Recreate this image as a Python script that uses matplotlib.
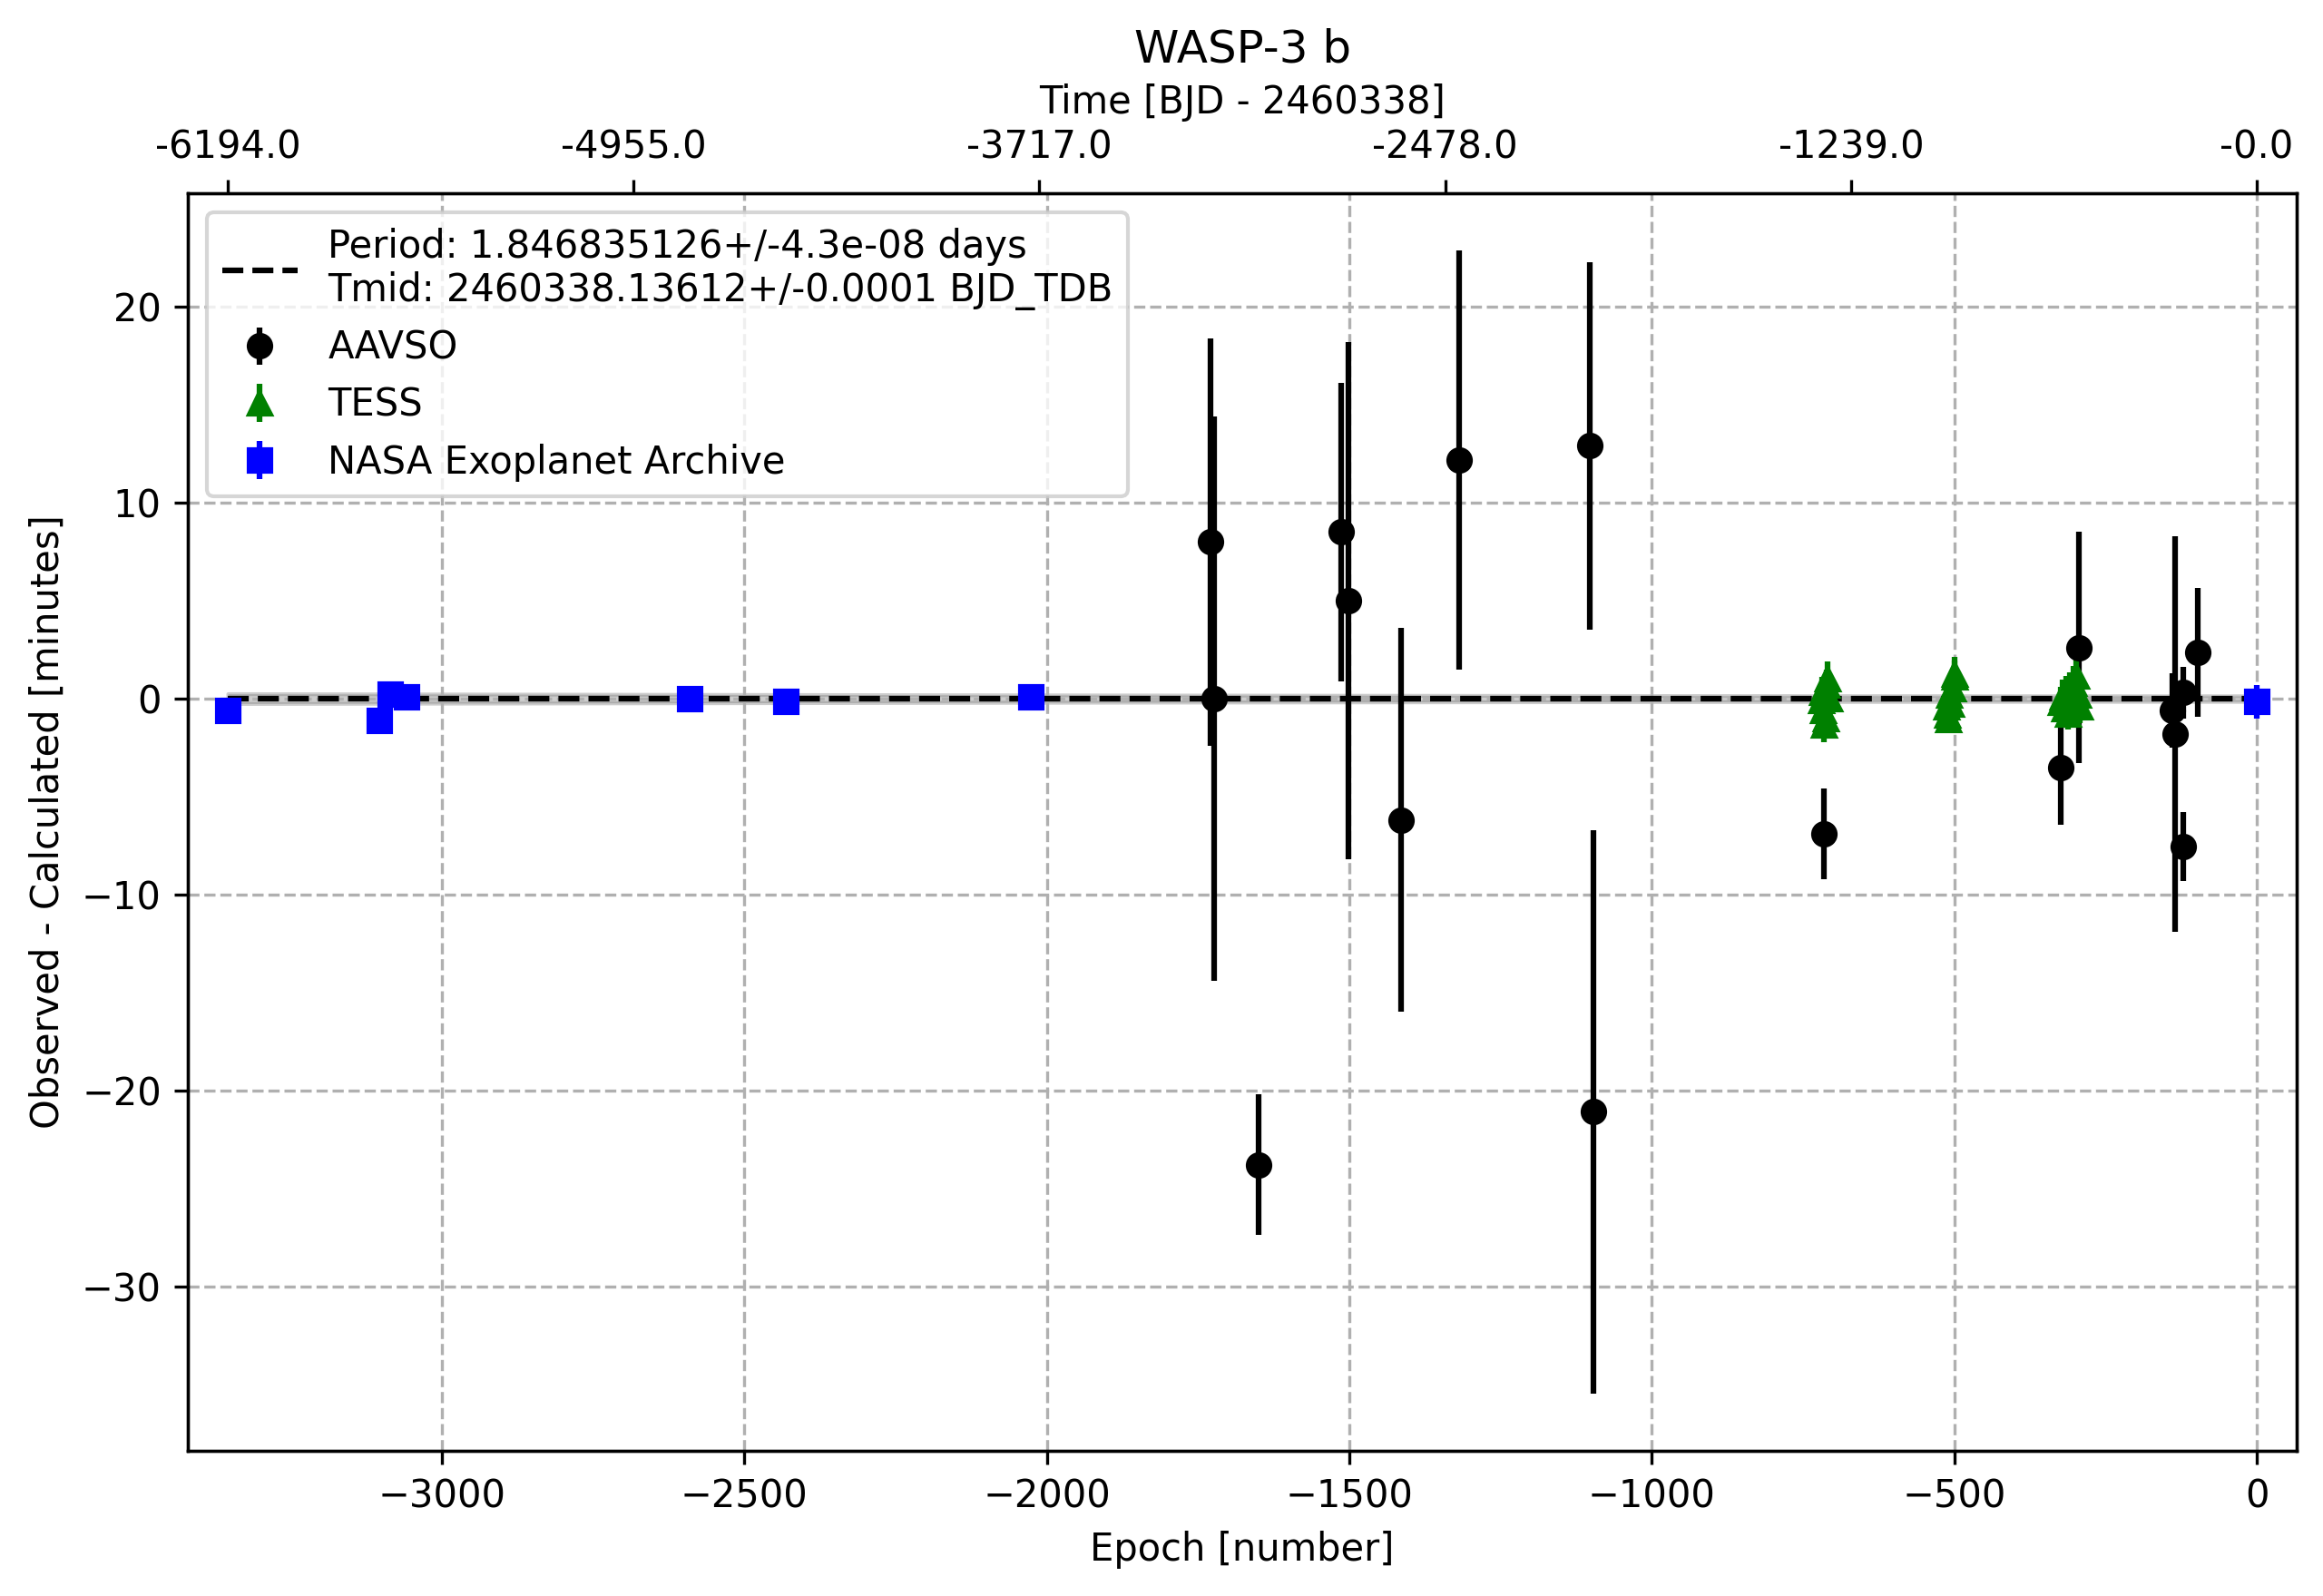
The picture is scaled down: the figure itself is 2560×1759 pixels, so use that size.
import matplotlib.pyplot as plt
import numpy as np

# ephemeris from the fit
period = 1.846835126
period_err = 4.3e-08
tmid = 2460338.13612
tmid_err = 0.0001

# AAVSO observations: epoch, O-C [min], error [min]
aavso_epoch = [-1729, -1724, -1650, -1513, -1501, -1414, -1318, -1102, -1096,
               -716, -324, -294, -139, -135, -122, -122, -97]
aavso_oc = [8.0, 0.0, -23.8, 8.5, 5.0, -6.2, 12.2, 12.9, -21.1,
            -6.9, -3.5, 2.6, -0.6, -1.8, 0.3, -7.55, 2.35]
aavso_err = [10.4, 14.4, 3.6, 7.6, 13.2, 9.8, 10.7, 9.4, 14.4,
             2.3, 2.95, 5.9, 1.9, 10.1, 1.3, 1.75, 3.3]

# TESS observations (three sectors)
tess_epoch = [-720, -718, -717, -715, -713, -711, -709, -707,
              -513, -511, -510, -508, -505, -502, -500, -499,
              -324, -321, -318, -315, -312, -309, -306, -303, -300, -298, -295, -292]
tess_oc = [-0.1, 0.3, -0.6, -1.35, -1.0, 0.7, 1.0, 0.0,
           -0.4, -0.85, -1.07, 0.2, -0.3, 0.5, 1.24, 1.1,
           -0.2, 0.1, -0.5, 0.3, -0.79, 0.5, 0.0, 0.8, -0.3, 1.16, 0.2, -0.4]
tess_err = [0.85, 0.8, 0.9, 0.86, 0.85, 0.8, 0.9, 0.85,
            0.8, 0.85, 0.6, 0.8, 0.85, 0.8, 0.9, 0.85,
            0.8, 0.85, 0.8, 0.85, 0.8, 0.85, 0.8, 0.85, 0.8, 0.9, 0.8, 0.85]

# NASA Exoplanet Archive
nasa_epoch = [-3354, -3104, -3085, -3059, -2590, -2431, -2026, 0]
nasa_oc = [-0.59, -1.09, 0.21, 0.07, 0.02, -0.12, 0.07, -0.16]
nasa_err = [0.4, 0.4, 0.4, 0.4, 0.4, 0.4, 0.4, 0.87]

# top axis tick labels (time relative to tmid)
top_times = [-6194.0, -4955.0, -3717.0, -2478.0, -1239.0, -0.0]

fig = plt.figure(figsize=(2560 / 300, 1759 / 300), dpi=300)
ax = fig.add_axes([0.0809, 0.0910, 0.9078, 0.7879])

all_epochs = np.array(aavso_epoch + tess_epoch + nasa_epoch)
xfit = np.linspace(all_epochs.min(), all_epochs.max(), 500)
sig = np.sqrt((xfit * period_err) ** 2 + tmid_err ** 2) * 24 * 60
ax.fill_between(xfit, -sig, sig, color='grey', alpha=0.4)

ax.errorbar(aavso_epoch, aavso_oc, yerr=aavso_err, fmt='ko', ls='none', label='AAVSO')
ax.errorbar(tess_epoch, tess_oc, yerr=tess_err, fmt='g^', ls='none', label='TESS')
ax.errorbar(nasa_epoch, nasa_oc, yerr=nasa_err, fmt='bs', ls='none', label='NASA Exoplanet Archive')

ax.plot(xfit, np.zeros_like(xfit), 'k--', lw=1.5,
        label=f'Period: {period}+/-{period_err:.1e} days\nTmid: {tmid}+/-{tmid_err} BJD_TDB')

ax.set_xlim(-3420, 66)
ax.set_ylim(-38.4, 25.8)
ax.grid(True, linestyle='--')
ax.set_xlabel('Epoch [number]')
ax.set_ylabel('Observed - Calculated [minutes]')
ax.legend(loc='upper left')

ax2 = ax.twiny()
ax2.set_xlim(ax.get_xlim())
ax2.set_xticks(np.array(top_times) / period)
ax2.set_xticklabels([f'{t}' for t in top_times])
ax2.set_xlabel(f'Time [BJD - {int(tmid)}]')

ax.set_title('WASP-3 b', y=1.1046, pad=0)

fig.savefig('out.png', dpi=300)
